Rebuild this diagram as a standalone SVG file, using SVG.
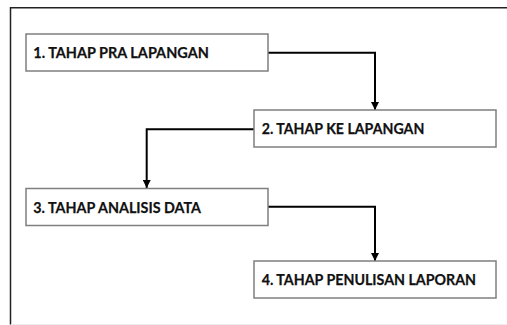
<svg xmlns="http://www.w3.org/2000/svg" width="507" height="325" viewBox="0 0 507 325">
<defs>
<style>
.box{fill:#ffffff;stroke:#7f7f7f;stroke-width:1.5}
.lbl{font-family:Lato,"Open Sans","Liberation Sans",sans-serif;font-weight:bold;font-size:15.5px;fill:#111111;stroke:#111111;stroke-width:0.25}
.con{fill:none;stroke:#000000;stroke-width:2}
.frame{stroke:#222222;stroke-width:1.5;fill:none}
</style>
<marker id="arr" viewBox="0 0 8 8" refX="8" refY="4" markerWidth="4" markerHeight="4" orient="auto" markerUnits="strokeWidth">
<path d="M0,0 L8,4 L0,8 Z" fill="#000000"/>
</marker>
</defs>
<rect x="0" y="0" width="507" height="325" fill="#ffffff"/>
<g id="frame">
<path class="frame" d="M10.5,324.5 L10.5,7.75 L507,7.75"/>
<line x1="11" y1="324.5" x2="507" y2="324.5" stroke="#ececec" stroke-width="1"/>
</g>
<g id="connectors">
<path class="con" d="M268,52.7 L375,52.7 L375,110" marker-end="url(#arr)"/>
<path class="con" d="M254,129.3 L146.7,129.3 L146.7,188" marker-end="url(#arr)"/>
<path class="con" d="M268,206.7 L375,206.7 L375,261" marker-end="url(#arr)"/>
</g>
<g id="node1">
<rect class="box" x="26" y="34" width="242" height="37"/>
<text class="lbl" x="33.3" y="58" textLength="175.5" lengthAdjust="spacingAndGlyphs">1. TAHAP PRA LAPANGAN</text>
</g>
<g id="node2">
<rect class="box" x="254" y="110" width="242" height="37"/>
<text class="lbl" x="261.7" y="133.5" textLength="162.6" lengthAdjust="spacingAndGlyphs">2. TAHAP KE LAPANGAN</text>
</g>
<g id="node3">
<rect class="box" x="26" y="188.5" width="242" height="37"/>
<text class="lbl" x="33.3" y="213.3" textLength="167.7" lengthAdjust="spacingAndGlyphs">3. TAHAP ANALISIS DATA</text>
</g>
<g id="node4">
<rect class="box" x="254" y="261" width="242" height="37"/>
<text class="lbl" x="261.7" y="284.5" textLength="214.3" lengthAdjust="spacingAndGlyphs">4. TAHAP PENULISAN LAPORAN</text>
</g>
</svg>
